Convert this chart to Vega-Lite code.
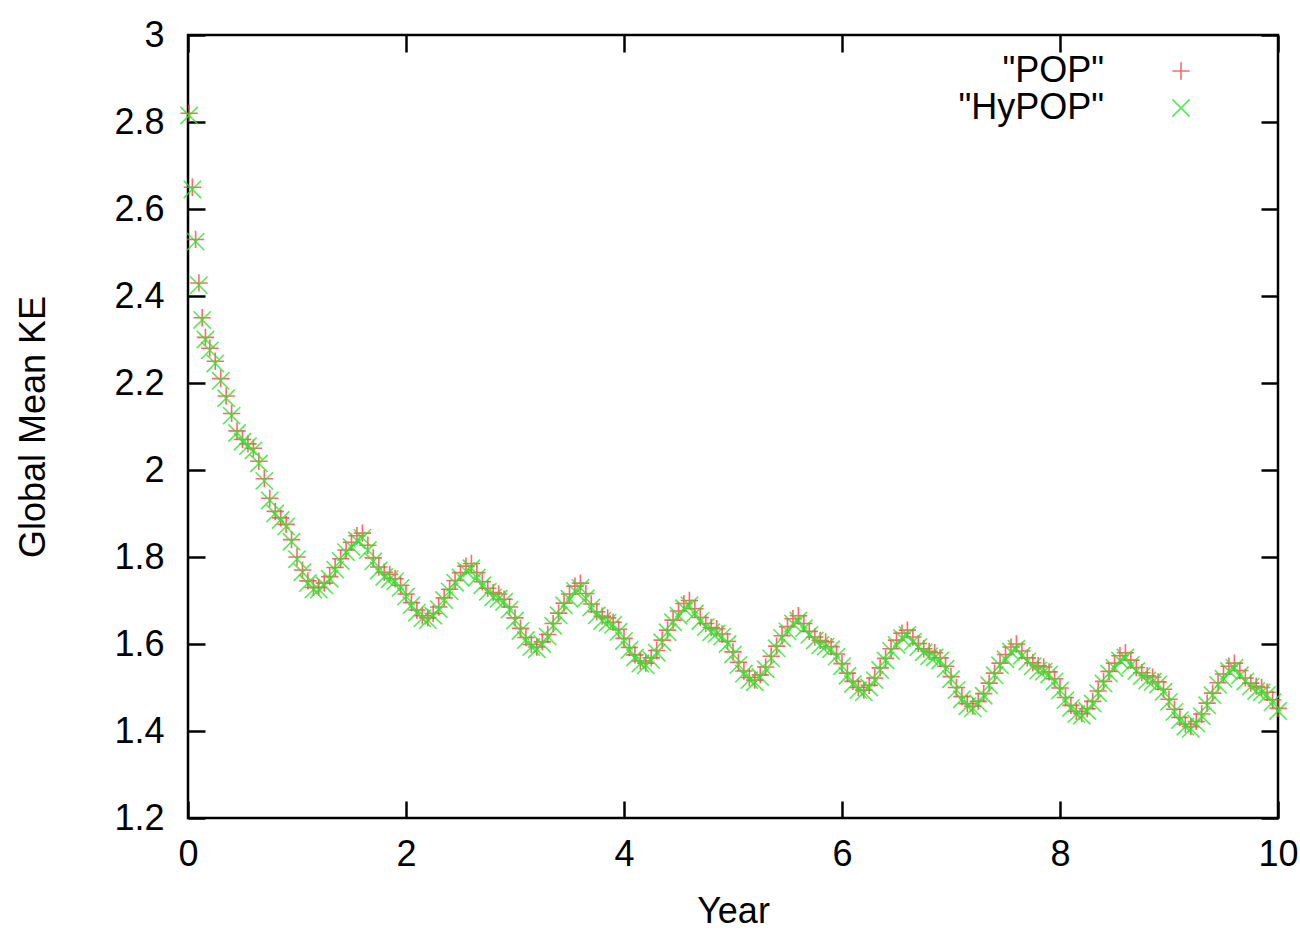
{
  "$schema": "https://vega.github.io/schema/vega-lite/v6.json",
  "width": 1090,
  "height": 783,
  "autosize": {"type": "none"},
  "padding": {"left": 188, "top": 35, "right": 22, "bottom": 112},
  "background": "white",
  "config": {
    "font": "Liberation Sans",
    "view": {"stroke": "black", "strokeWidth": 2.5}
  },
  "data": {"values": [
    {"run":"\"POP\"","year":0.01,"ke":2.82},{"run":"\"POP\"","year":0.04,"ke":2.65},{"run":"\"POP\"","year":0.07,"ke":2.53},{"run":"\"POP\"","year":0.10,"ke":2.43},{"run":"\"POP\"","year":0.13,"ke":2.35},{"run":"\"POP\"","year":0.16,"ke":2.305},{"run":"\"POP\"","year":0.20,"ke":2.28},{"run":"\"POP\"","year":0.25,"ke":2.25},{"run":"\"POP\"","year":0.30,"ke":2.21},{"run":"\"POP\"","year":0.35,"ke":2.17},{"run":"\"POP\"","year":0.40,"ke":2.13},{"run":"\"POP\"","year":0.45,"ke":2.09},{"run":"\"POP\"","year":0.50,"ke":2.07},{"run":"\"POP\"","year":0.55,"ke":2.06},{"run":"\"POP\"","year":0.60,"ke":2.05},{"run":"\"POP\"","year":0.65,"ke":2.02},{"run":"\"POP\"","year":0.70,"ke":1.98},{"run":"\"POP\"","year":0.75,"ke":1.935},{"run":"\"POP\"","year":0.80,"ke":1.905},{"run":"\"POP\"","year":0.85,"ke":1.89},{"run":"\"POP\"","year":0.90,"ke":1.875},{"run":"\"POP\"","year":0.95,"ke":1.84},{"run":"\"POP\"","year":1.00,"ke":1.80},{"run":"\"POP\"","year":1.05,"ke":1.77},{"run":"\"POP\"","year":1.10,"ke":1.745},{"run":"\"POP\"","year":1.15,"ke":1.73},{"run":"\"POP\"","year":1.20,"ke":1.73},
    {"run":"\"POP\"","year":1.25,"ke":1.740},{"run":"\"POP\"","year":1.30,"ke":1.755},{"run":"\"POP\"","year":1.35,"ke":1.776},{"run":"\"POP\"","year":1.40,"ke":1.796},{"run":"\"POP\"","year":1.45,"ke":1.816},{"run":"\"POP\"","year":1.50,"ke":1.834},{"run":"\"POP\"","year":1.55,"ke":1.849},{"run":"\"POP\"","year":1.60,"ke":1.855},{"run":"\"POP\"","year":1.65,"ke":1.827},{"run":"\"POP\"","year":1.70,"ke":1.798},{"run":"\"POP\"","year":1.75,"ke":1.777},{"run":"\"POP\"","year":1.80,"ke":1.765},{"run":"\"POP\"","year":1.85,"ke":1.760},{"run":"\"POP\"","year":1.90,"ke":1.750},{"run":"\"POP\"","year":1.95,"ke":1.735},{"run":"\"POP\"","year":2.00,"ke":1.715},{"run":"\"POP\"","year":2.05,"ke":1.695},{"run":"\"POP\"","year":2.10,"ke":1.678},{"run":"\"POP\"","year":2.15,"ke":1.665},{"run":"\"POP\"","year":2.20,"ke":1.660},
    {"run":"\"POP\"","year":2.25,"ke":1.670},{"run":"\"POP\"","year":2.30,"ke":1.685},{"run":"\"POP\"","year":2.35,"ke":1.706},{"run":"\"POP\"","year":2.40,"ke":1.726},{"run":"\"POP\"","year":2.45,"ke":1.746},{"run":"\"POP\"","year":2.50,"ke":1.764},{"run":"\"POP\"","year":2.55,"ke":1.779},{"run":"\"POP\"","year":2.60,"ke":1.785},{"run":"\"POP\"","year":2.65,"ke":1.764},{"run":"\"POP\"","year":2.70,"ke":1.743},{"run":"\"POP\"","year":2.75,"ke":1.728},{"run":"\"POP\"","year":2.80,"ke":1.718},{"run":"\"POP\"","year":2.85,"ke":1.715},{"run":"\"POP\"","year":2.90,"ke":1.703},{"run":"\"POP\"","year":2.95,"ke":1.685},{"run":"\"POP\"","year":3.00,"ke":1.660},{"run":"\"POP\"","year":3.05,"ke":1.636},{"run":"\"POP\"","year":3.10,"ke":1.615},{"run":"\"POP\"","year":3.15,"ke":1.599},{"run":"\"POP\"","year":3.20,"ke":1.593},
    {"run":"\"POP\"","year":3.25,"ke":1.605},{"run":"\"POP\"","year":3.30,"ke":1.622},{"run":"\"POP\"","year":3.35,"ke":1.647},{"run":"\"POP\"","year":3.40,"ke":1.671},{"run":"\"POP\"","year":3.45,"ke":1.694},{"run":"\"POP\"","year":3.50,"ke":1.715},{"run":"\"POP\"","year":3.55,"ke":1.733},{"run":"\"POP\"","year":3.60,"ke":1.740},{"run":"\"POP\"","year":3.65,"ke":1.716},{"run":"\"POP\"","year":3.70,"ke":1.692},{"run":"\"POP\"","year":3.75,"ke":1.674},{"run":"\"POP\"","year":3.80,"ke":1.664},{"run":"\"POP\"","year":3.85,"ke":1.660},{"run":"\"POP\"","year":3.90,"ke":1.650},{"run":"\"POP\"","year":3.95,"ke":1.634},{"run":"\"POP\"","year":4.00,"ke":1.613},{"run":"\"POP\"","year":4.05,"ke":1.592},{"run":"\"POP\"","year":4.10,"ke":1.575},{"run":"\"POP\"","year":4.15,"ke":1.561},{"run":"\"POP\"","year":4.20,"ke":1.556},
    {"run":"\"POP\"","year":4.25,"ke":1.568},{"run":"\"POP\"","year":4.30,"ke":1.585},{"run":"\"POP\"","year":4.35,"ke":1.609},{"run":"\"POP\"","year":4.40,"ke":1.632},{"run":"\"POP\"","year":4.45,"ke":1.655},{"run":"\"POP\"","year":4.50,"ke":1.676},{"run":"\"POP\"","year":4.55,"ke":1.693},{"run":"\"POP\"","year":4.60,"ke":1.700},{"run":"\"POP\"","year":4.65,"ke":1.681},{"run":"\"POP\"","year":4.70,"ke":1.661},{"run":"\"POP\"","year":4.75,"ke":1.647},{"run":"\"POP\"","year":4.80,"ke":1.638},{"run":"\"POP\"","year":4.85,"ke":1.635},{"run":"\"POP\"","year":4.90,"ke":1.623},{"run":"\"POP\"","year":4.95,"ke":1.606},{"run":"\"POP\"","year":5.00,"ke":1.582},{"run":"\"POP\"","year":5.05,"ke":1.558},{"run":"\"POP\"","year":5.10,"ke":1.538},{"run":"\"POP\"","year":5.15,"ke":1.523},{"run":"\"POP\"","year":5.20,"ke":1.517},
    {"run":"\"POP\"","year":5.25,"ke":1.529},{"run":"\"POP\"","year":5.30,"ke":1.547},{"run":"\"POP\"","year":5.35,"ke":1.572},{"run":"\"POP\"","year":5.40,"ke":1.595},{"run":"\"POP\"","year":5.45,"ke":1.619},{"run":"\"POP\"","year":5.50,"ke":1.640},{"run":"\"POP\"","year":5.55,"ke":1.658},{"run":"\"POP\"","year":5.60,"ke":1.665},{"run":"\"POP\"","year":5.65,"ke":1.647},{"run":"\"POP\"","year":5.70,"ke":1.629},{"run":"\"POP\"","year":5.75,"ke":1.616},{"run":"\"POP\"","year":5.80,"ke":1.608},{"run":"\"POP\"","year":5.85,"ke":1.605},{"run":"\"POP\"","year":5.90,"ke":1.594},{"run":"\"POP\"","year":5.95,"ke":1.577},{"run":"\"POP\"","year":6.00,"ke":1.555},{"run":"\"POP\"","year":6.05,"ke":1.533},{"run":"\"POP\"","year":6.10,"ke":1.514},{"run":"\"POP\"","year":6.15,"ke":1.500},{"run":"\"POP\"","year":6.20,"ke":1.494},
    {"run":"\"POP\"","year":6.25,"ke":1.505},{"run":"\"POP\"","year":6.30,"ke":1.522},{"run":"\"POP\"","year":6.35,"ke":1.545},{"run":"\"POP\"","year":6.40,"ke":1.567},{"run":"\"POP\"","year":6.45,"ke":1.589},{"run":"\"POP\"","year":6.50,"ke":1.609},{"run":"\"POP\"","year":6.55,"ke":1.625},{"run":"\"POP\"","year":6.60,"ke":1.632},{"run":"\"POP\"","year":6.65,"ke":1.616},{"run":"\"POP\"","year":6.70,"ke":1.601},{"run":"\"POP\"","year":6.75,"ke":1.589},{"run":"\"POP\"","year":6.80,"ke":1.583},{"run":"\"POP\"","year":6.85,"ke":1.580},{"run":"\"POP\"","year":6.90,"ke":1.568},{"run":"\"POP\"","year":6.95,"ke":1.549},{"run":"\"POP\"","year":7.00,"ke":1.525},{"run":"\"POP\"","year":7.05,"ke":1.500},{"run":"\"POP\"","year":7.10,"ke":1.479},{"run":"\"POP\"","year":7.15,"ke":1.463},{"run":"\"POP\"","year":7.20,"ke":1.457},
    {"run":"\"POP\"","year":7.25,"ke":1.468},{"run":"\"POP\"","year":7.30,"ke":1.486},{"run":"\"POP\"","year":7.35,"ke":1.510},{"run":"\"POP\"","year":7.40,"ke":1.533},{"run":"\"POP\"","year":7.45,"ke":1.556},{"run":"\"POP\"","year":7.50,"ke":1.576},{"run":"\"POP\"","year":7.55,"ke":1.593},{"run":"\"POP\"","year":7.60,"ke":1.600},{"run":"\"POP\"","year":7.65,"ke":1.584},{"run":"\"POP\"","year":7.70,"ke":1.568},{"run":"\"POP\"","year":7.75,"ke":1.557},{"run":"\"POP\"","year":7.80,"ke":1.550},{"run":"\"POP\"","year":7.85,"ke":1.547},{"run":"\"POP\"","year":7.90,"ke":1.536},{"run":"\"POP\"","year":7.95,"ke":1.520},{"run":"\"POP\"","year":8.00,"ke":1.499},{"run":"\"POP\"","year":8.05,"ke":1.477},{"run":"\"POP\"","year":8.10,"ke":1.459},{"run":"\"POP\"","year":8.15,"ke":1.445},{"run":"\"POP\"","year":8.20,"ke":1.440},
    {"run":"\"POP\"","year":8.25,"ke":1.451},{"run":"\"POP\"","year":8.30,"ke":1.468},{"run":"\"POP\"","year":8.35,"ke":1.492},{"run":"\"POP\"","year":8.40,"ke":1.514},{"run":"\"POP\"","year":8.45,"ke":1.537},{"run":"\"POP\"","year":8.50,"ke":1.556},{"run":"\"POP\"","year":8.55,"ke":1.573},{"run":"\"POP\"","year":8.60,"ke":1.580},{"run":"\"POP\"","year":8.65,"ke":1.563},{"run":"\"POP\"","year":8.70,"ke":1.546},{"run":"\"POP\"","year":8.75,"ke":1.534},{"run":"\"POP\"","year":8.80,"ke":1.527},{"run":"\"POP\"","year":8.85,"ke":1.524},{"run":"\"POP\"","year":8.90,"ke":1.513},{"run":"\"POP\"","year":8.95,"ke":1.496},{"run":"\"POP\"","year":9.00,"ke":1.473},{"run":"\"POP\"","year":9.05,"ke":1.450},{"run":"\"POP\"","year":9.10,"ke":1.431},{"run":"\"POP\"","year":9.15,"ke":1.416},{"run":"\"POP\"","year":9.20,"ke":1.410},
    {"run":"\"POP\"","year":9.25,"ke":1.422},{"run":"\"POP\"","year":9.30,"ke":1.439},{"run":"\"POP\"","year":9.35,"ke":1.464},{"run":"\"POP\"","year":9.40,"ke":1.487},{"run":"\"POP\"","year":9.45,"ke":1.511},{"run":"\"POP\"","year":9.50,"ke":1.531},{"run":"\"POP\"","year":9.55,"ke":1.549},{"run":"\"POP\"","year":9.60,"ke":1.556},{"run":"\"POP\"","year":9.65,"ke":1.539},{"run":"\"POP\"","year":9.70,"ke":1.522},{"run":"\"POP\"","year":9.75,"ke":1.510},{"run":"\"POP\"","year":9.80,"ke":1.503},{"run":"\"POP\"","year":9.85,"ke":1.500},{"run":"\"POP\"","year":9.90,"ke":1.489},{"run":"\"POP\"","year":9.95,"ke":1.472},{"run":"\"POP\"","year":10.00,"ke":1.452},
    {"run":"\"HyPOP\"","year":0.01,"ke":2.815},{"run":"\"HyPOP\"","year":0.04,"ke":2.645},{"run":"\"HyPOP\"","year":0.07,"ke":2.525},{"run":"\"HyPOP\"","year":0.10,"ke":2.425},{"run":"\"HyPOP\"","year":0.13,"ke":2.345},{"run":"\"HyPOP\"","year":0.16,"ke":2.30},{"run":"\"HyPOP\"","year":0.20,"ke":2.275},{"run":"\"HyPOP\"","year":0.25,"ke":2.245},{"run":"\"HyPOP\"","year":0.30,"ke":2.205},{"run":"\"HyPOP\"","year":0.35,"ke":2.165},{"run":"\"HyPOP\"","year":0.40,"ke":2.125},{"run":"\"HyPOP\"","year":0.45,"ke":2.085},{"run":"\"HyPOP\"","year":0.50,"ke":2.065},{"run":"\"HyPOP\"","year":0.55,"ke":2.055},{"run":"\"HyPOP\"","year":0.60,"ke":2.045},{"run":"\"HyPOP\"","year":0.65,"ke":2.015},{"run":"\"HyPOP\"","year":0.70,"ke":1.975},{"run":"\"HyPOP\"","year":0.75,"ke":1.93},{"run":"\"HyPOP\"","year":0.80,"ke":1.90},{"run":"\"HyPOP\"","year":0.85,"ke":1.885},{"run":"\"HyPOP\"","year":0.90,"ke":1.87},{"run":"\"HyPOP\"","year":0.95,"ke":1.835},{"run":"\"HyPOP\"","year":1.00,"ke":1.795},{"run":"\"HyPOP\"","year":1.05,"ke":1.765},{"run":"\"HyPOP\"","year":1.10,"ke":1.74},{"run":"\"HyPOP\"","year":1.15,"ke":1.725},{"run":"\"HyPOP\"","year":1.20,"ke":1.725},
    {"run":"\"HyPOP\"","year":1.25,"ke":1.735},{"run":"\"HyPOP\"","year":1.30,"ke":1.750},{"run":"\"HyPOP\"","year":1.35,"ke":1.771},{"run":"\"HyPOP\"","year":1.40,"ke":1.791},{"run":"\"HyPOP\"","year":1.45,"ke":1.811},{"run":"\"HyPOP\"","year":1.50,"ke":1.823},{"run":"\"HyPOP\"","year":1.55,"ke":1.838},{"run":"\"HyPOP\"","year":1.60,"ke":1.844},{"run":"\"HyPOP\"","year":1.65,"ke":1.816},{"run":"\"HyPOP\"","year":1.70,"ke":1.790},{"run":"\"HyPOP\"","year":1.75,"ke":1.769},{"run":"\"HyPOP\"","year":1.80,"ke":1.754},{"run":"\"HyPOP\"","year":1.85,"ke":1.749},{"run":"\"HyPOP\"","year":1.90,"ke":1.744},{"run":"\"HyPOP\"","year":1.95,"ke":1.729},{"run":"\"HyPOP\"","year":2.00,"ke":1.709},{"run":"\"HyPOP\"","year":2.05,"ke":1.689},{"run":"\"HyPOP\"","year":2.10,"ke":1.672},{"run":"\"HyPOP\"","year":2.15,"ke":1.659},{"run":"\"HyPOP\"","year":2.20,"ke":1.655},
    {"run":"\"HyPOP\"","year":2.25,"ke":1.665},{"run":"\"HyPOP\"","year":2.30,"ke":1.680},{"run":"\"HyPOP\"","year":2.35,"ke":1.701},{"run":"\"HyPOP\"","year":2.40,"ke":1.721},{"run":"\"HyPOP\"","year":2.45,"ke":1.741},{"run":"\"HyPOP\"","year":2.50,"ke":1.753},{"run":"\"HyPOP\"","year":2.55,"ke":1.768},{"run":"\"HyPOP\"","year":2.60,"ke":1.774},{"run":"\"HyPOP\"","year":2.65,"ke":1.753},{"run":"\"HyPOP\"","year":2.70,"ke":1.735},{"run":"\"HyPOP\"","year":2.75,"ke":1.720},{"run":"\"HyPOP\"","year":2.80,"ke":1.707},{"run":"\"HyPOP\"","year":2.85,"ke":1.704},{"run":"\"HyPOP\"","year":2.90,"ke":1.697},{"run":"\"HyPOP\"","year":2.95,"ke":1.679},{"run":"\"HyPOP\"","year":3.00,"ke":1.654},{"run":"\"HyPOP\"","year":3.05,"ke":1.630},{"run":"\"HyPOP\"","year":3.10,"ke":1.609},{"run":"\"HyPOP\"","year":3.15,"ke":1.593},{"run":"\"HyPOP\"","year":3.20,"ke":1.588},
    {"run":"\"HyPOP\"","year":3.25,"ke":1.600},{"run":"\"HyPOP\"","year":3.30,"ke":1.617},{"run":"\"HyPOP\"","year":3.35,"ke":1.642},{"run":"\"HyPOP\"","year":3.40,"ke":1.666},{"run":"\"HyPOP\"","year":3.45,"ke":1.689},{"run":"\"HyPOP\"","year":3.50,"ke":1.704},{"run":"\"HyPOP\"","year":3.55,"ke":1.722},{"run":"\"HyPOP\"","year":3.60,"ke":1.729},{"run":"\"HyPOP\"","year":3.65,"ke":1.705},{"run":"\"HyPOP\"","year":3.70,"ke":1.684},{"run":"\"HyPOP\"","year":3.75,"ke":1.666},{"run":"\"HyPOP\"","year":3.80,"ke":1.653},{"run":"\"HyPOP\"","year":3.85,"ke":1.649},{"run":"\"HyPOP\"","year":3.90,"ke":1.644},{"run":"\"HyPOP\"","year":3.95,"ke":1.628},{"run":"\"HyPOP\"","year":4.00,"ke":1.607},{"run":"\"HyPOP\"","year":4.05,"ke":1.586},{"run":"\"HyPOP\"","year":4.10,"ke":1.569},{"run":"\"HyPOP\"","year":4.15,"ke":1.555},{"run":"\"HyPOP\"","year":4.20,"ke":1.551},
    {"run":"\"HyPOP\"","year":4.25,"ke":1.563},{"run":"\"HyPOP\"","year":4.30,"ke":1.580},{"run":"\"HyPOP\"","year":4.35,"ke":1.604},{"run":"\"HyPOP\"","year":4.40,"ke":1.627},{"run":"\"HyPOP\"","year":4.45,"ke":1.650},{"run":"\"HyPOP\"","year":4.50,"ke":1.665},{"run":"\"HyPOP\"","year":4.55,"ke":1.682},{"run":"\"HyPOP\"","year":4.60,"ke":1.689},{"run":"\"HyPOP\"","year":4.65,"ke":1.670},{"run":"\"HyPOP\"","year":4.70,"ke":1.653},{"run":"\"HyPOP\"","year":4.75,"ke":1.639},{"run":"\"HyPOP\"","year":4.80,"ke":1.627},{"run":"\"HyPOP\"","year":4.85,"ke":1.624},{"run":"\"HyPOP\"","year":4.90,"ke":1.617},{"run":"\"HyPOP\"","year":4.95,"ke":1.600},{"run":"\"HyPOP\"","year":5.00,"ke":1.576},{"run":"\"HyPOP\"","year":5.05,"ke":1.552},{"run":"\"HyPOP\"","year":5.10,"ke":1.532},{"run":"\"HyPOP\"","year":5.15,"ke":1.517},{"run":"\"HyPOP\"","year":5.20,"ke":1.512},
    {"run":"\"HyPOP\"","year":5.25,"ke":1.524},{"run":"\"HyPOP\"","year":5.30,"ke":1.542},{"run":"\"HyPOP\"","year":5.35,"ke":1.567},{"run":"\"HyPOP\"","year":5.40,"ke":1.590},{"run":"\"HyPOP\"","year":5.45,"ke":1.614},{"run":"\"HyPOP\"","year":5.50,"ke":1.629},{"run":"\"HyPOP\"","year":5.55,"ke":1.647},{"run":"\"HyPOP\"","year":5.60,"ke":1.654},{"run":"\"HyPOP\"","year":5.65,"ke":1.636},{"run":"\"HyPOP\"","year":5.70,"ke":1.621},{"run":"\"HyPOP\"","year":5.75,"ke":1.608},{"run":"\"HyPOP\"","year":5.80,"ke":1.597},{"run":"\"HyPOP\"","year":5.85,"ke":1.594},{"run":"\"HyPOP\"","year":5.90,"ke":1.588},{"run":"\"HyPOP\"","year":5.95,"ke":1.571},{"run":"\"HyPOP\"","year":6.00,"ke":1.549},{"run":"\"HyPOP\"","year":6.05,"ke":1.527},{"run":"\"HyPOP\"","year":6.10,"ke":1.508},{"run":"\"HyPOP\"","year":6.15,"ke":1.494},{"run":"\"HyPOP\"","year":6.20,"ke":1.489},
    {"run":"\"HyPOP\"","year":6.25,"ke":1.500},{"run":"\"HyPOP\"","year":6.30,"ke":1.517},{"run":"\"HyPOP\"","year":6.35,"ke":1.540},{"run":"\"HyPOP\"","year":6.40,"ke":1.562},{"run":"\"HyPOP\"","year":6.45,"ke":1.584},{"run":"\"HyPOP\"","year":6.50,"ke":1.598},{"run":"\"HyPOP\"","year":6.55,"ke":1.614},{"run":"\"HyPOP\"","year":6.60,"ke":1.621},{"run":"\"HyPOP\"","year":6.65,"ke":1.605},{"run":"\"HyPOP\"","year":6.70,"ke":1.593},{"run":"\"HyPOP\"","year":6.75,"ke":1.581},{"run":"\"HyPOP\"","year":6.80,"ke":1.572},{"run":"\"HyPOP\"","year":6.85,"ke":1.569},{"run":"\"HyPOP\"","year":6.90,"ke":1.562},{"run":"\"HyPOP\"","year":6.95,"ke":1.543},{"run":"\"HyPOP\"","year":7.00,"ke":1.519},{"run":"\"HyPOP\"","year":7.05,"ke":1.494},{"run":"\"HyPOP\"","year":7.10,"ke":1.473},{"run":"\"HyPOP\"","year":7.15,"ke":1.457},{"run":"\"HyPOP\"","year":7.20,"ke":1.452},
    {"run":"\"HyPOP\"","year":7.25,"ke":1.463},{"run":"\"HyPOP\"","year":7.30,"ke":1.481},{"run":"\"HyPOP\"","year":7.35,"ke":1.505},{"run":"\"HyPOP\"","year":7.40,"ke":1.528},{"run":"\"HyPOP\"","year":7.45,"ke":1.551},{"run":"\"HyPOP\"","year":7.50,"ke":1.565},{"run":"\"HyPOP\"","year":7.55,"ke":1.582},{"run":"\"HyPOP\"","year":7.60,"ke":1.589},{"run":"\"HyPOP\"","year":7.65,"ke":1.573},{"run":"\"HyPOP\"","year":7.70,"ke":1.560},{"run":"\"HyPOP\"","year":7.75,"ke":1.549},{"run":"\"HyPOP\"","year":7.80,"ke":1.539},{"run":"\"HyPOP\"","year":7.85,"ke":1.536},{"run":"\"HyPOP\"","year":7.90,"ke":1.530},{"run":"\"HyPOP\"","year":7.95,"ke":1.514},{"run":"\"HyPOP\"","year":8.00,"ke":1.493},{"run":"\"HyPOP\"","year":8.05,"ke":1.471},{"run":"\"HyPOP\"","year":8.10,"ke":1.453},{"run":"\"HyPOP\"","year":8.15,"ke":1.439},{"run":"\"HyPOP\"","year":8.20,"ke":1.435},
    {"run":"\"HyPOP\"","year":8.25,"ke":1.446},{"run":"\"HyPOP\"","year":8.30,"ke":1.463},{"run":"\"HyPOP\"","year":8.35,"ke":1.487},{"run":"\"HyPOP\"","year":8.40,"ke":1.509},{"run":"\"HyPOP\"","year":8.45,"ke":1.532},{"run":"\"HyPOP\"","year":8.50,"ke":1.545},{"run":"\"HyPOP\"","year":8.55,"ke":1.562},{"run":"\"HyPOP\"","year":8.60,"ke":1.569},{"run":"\"HyPOP\"","year":8.65,"ke":1.552},{"run":"\"HyPOP\"","year":8.70,"ke":1.538},{"run":"\"HyPOP\"","year":8.75,"ke":1.526},{"run":"\"HyPOP\"","year":8.80,"ke":1.516},{"run":"\"HyPOP\"","year":8.85,"ke":1.513},{"run":"\"HyPOP\"","year":8.90,"ke":1.507},{"run":"\"HyPOP\"","year":8.95,"ke":1.490},{"run":"\"HyPOP\"","year":9.00,"ke":1.467},{"run":"\"HyPOP\"","year":9.05,"ke":1.444},{"run":"\"HyPOP\"","year":9.10,"ke":1.425},{"run":"\"HyPOP\"","year":9.15,"ke":1.410},{"run":"\"HyPOP\"","year":9.20,"ke":1.405},
    {"run":"\"HyPOP\"","year":9.25,"ke":1.417},{"run":"\"HyPOP\"","year":9.30,"ke":1.434},{"run":"\"HyPOP\"","year":9.35,"ke":1.459},{"run":"\"HyPOP\"","year":9.40,"ke":1.482},{"run":"\"HyPOP\"","year":9.45,"ke":1.506},{"run":"\"HyPOP\"","year":9.50,"ke":1.520},{"run":"\"HyPOP\"","year":9.55,"ke":1.538},{"run":"\"HyPOP\"","year":9.60,"ke":1.545},{"run":"\"HyPOP\"","year":9.65,"ke":1.528},{"run":"\"HyPOP\"","year":9.70,"ke":1.514},{"run":"\"HyPOP\"","year":9.75,"ke":1.502},{"run":"\"HyPOP\"","year":9.80,"ke":1.492},{"run":"\"HyPOP\"","year":9.85,"ke":1.489},{"run":"\"HyPOP\"","year":9.90,"ke":1.483},{"run":"\"HyPOP\"","year":9.95,"ke":1.466},{"run":"\"HyPOP\"","year":10.00,"ke":1.446}
  ]},
  "layer": [
    {
      "mark": {"type": "point", "filled": false, "strokeWidth": 1.6, "opacity": 0.8, "size": 300},
      "encoding": {
        "x": {
          "field": "year", "type": "quantitative",
          "scale": {"domain": [0, 10], "nice": false, "zero": false},
          "axis": {
            "orient": "bottom", "values": [0, 2, 4, 6, 8, 10], "format": "d",
            "title": "Year", "grid": false, "domain": false,
            "tickSize": -17, "tickWidth": 2.5, "tickColor": "black",
            "labelPadding": 36, "labelFontSize": 36, "labelColor": "black",
            "labelFlush": false, "labelOverlap": false,
            "titleFontSize": 36, "titleFontWeight": "normal", "titleColor": "black", "titlePadding": 22
          }
        },
        "y": {
          "field": "ke", "type": "quantitative",
          "scale": {"domain": [1.2, 3], "nice": false, "zero": false},
          "axis": {
            "orient": "left", "values": [1.2, 1.4, 1.6, 1.8, 2, 2.2, 2.4, 2.6, 2.8, 3], "format": "~g",
            "title": "Global Mean KE", "grid": false, "domain": false,
            "tickSize": -17, "tickWidth": 2.5, "tickColor": "black",
            "labelPadding": 41, "labelFontSize": 36, "labelColor": "black",
            "labelFlush": false, "labelOverlap": false,
            "titleFontSize": 36, "titleFontWeight": "normal", "titleColor": "black", "titlePadding": 61
          }
        },
        "color": {
          "field": "run", "type": "nominal",
          "scale": {"domain": ["\"POP\"", "\"HyPOP\""], "range": ["#ff4444", "#2ee62e"]},
          "legend": {
            "orient": "none", "legendX": 975, "legendY": 18, "title": null,
            "labelFontSize": 36, "labelColor": "black", "labelAlign": "right", "labelOffset": -95, "labelLimit": 400,
            "symbolSize": 300, "symbolStrokeWidth": 1.6, "rowPadding": 1
          }
        },
        "shape": {
          "field": "run", "type": "nominal",
          "scale": {"domain": ["\"POP\"", "\"HyPOP\""], "range": ["M-1,0L1,0M0,-1L0,1", "M-1,-1L1,1M-1,1L1,-1"]},
          "legend": {
            "orient": "none", "legendX": 975, "legendY": 18, "title": null,
            "labelFontSize": 36, "labelColor": "black", "labelAlign": "right", "labelOffset": -95, "labelLimit": 400,
            "symbolSize": 300, "symbolStrokeWidth": 1.6, "rowPadding": 1
          }
        }
      }
    },
    {
      "transform": [{"filter": "datum.year == 0.01"}],
      "mark": {"type": "point", "opacity": 0},
      "encoding": {
        "x": {
          "field": "year", "type": "quantitative",
          "axis": {"orient": "top", "values": [0, 2, 4, 6, 8, 10], "labels": false, "title": null, "grid": false, "domain": false, "tickSize": -17, "tickWidth": 2.5, "tickColor": "black"}
        },
        "y": {
          "field": "ke", "type": "quantitative",
          "axis": {"orient": "right", "values": [1.2, 1.4, 1.6, 1.8, 2, 2.2, 2.4, 2.6, 2.8, 3], "labels": false, "title": null, "grid": false, "domain": false, "tickSize": -17, "tickWidth": 2.5, "tickColor": "black"}
        }
      }
    }
  ],
  "resolve": {"axis": {"x": "independent", "y": "independent"}}
}
